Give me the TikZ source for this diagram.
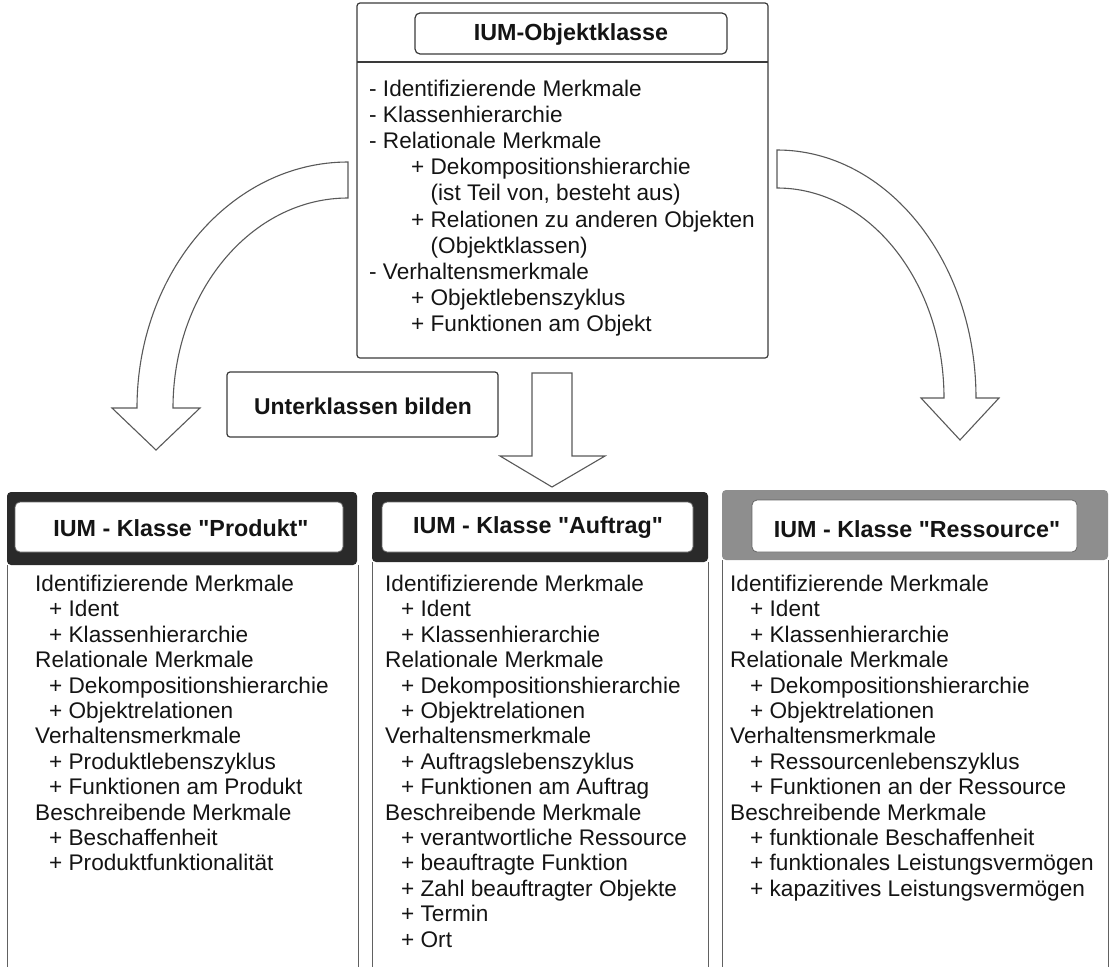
\documentclass[tikz,border=0pt]{standalone}
\usepackage{fontspec}
\setmainfont{Liberation Sans}[Ligatures=TeXOff]
\newcommand\bodyfont{\fontsize{22.6pt}{26pt}\selectfont}
\newcommand\headfont{\fontsize{23.3pt}{28pt}\selectfont\bfseries}
\newcommand\subfont{\fontsize{22.9pt}{28pt}\selectfont\bfseries}
\definecolor{ink}{HTML}{141414}
\definecolor{linec}{HTML}{3A3A3A}
\definecolor{darkband}{HTML}{2A2A2A}
\definecolor{grayband}{HTML}{8E8E8E}
\begin{document}
\begin{tikzpicture}[x=1pt,y=-1pt,
  frame/.style={draw=linec, line width=1.2pt},
  thinframe/.style={draw=linec!80, line width=1pt},
  hollow/.style={draw=black!65, line width=1.1pt, fill=white, line join=miter},
  txt/.style={anchor=base west, inner sep=0pt, font=\bodyfont, text=ink},
  head/.style={inner sep=0pt, font=\headfont, text=ink},
  innerhead/.style={fill=white, draw=black!60, line width=0.8pt, rounded corners=5pt}]

\useasboundingbox (0,0) rectangle (1112,967);

% ---------- curved and straight block arrows ----------
\draw[hollow] (348,162) .. controls (231.5,162) and (137,272.1) .. (137,408)
  -- (112,408) -- (156,450) -- (200,408) -- (173,408)
  .. controls (173,292) and (251.3,198) .. (348,198) -- cycle;
\draw[hollow] (777,150) .. controls (886.9,150) and (976,261) .. (976,398)
  -- (999,398) -- (960,440) -- (921,398) -- (944,398)
  .. controls (944,282) and (869.2,188) .. (777,188) -- cycle;
\draw[hollow] (532,373) -- (572,373) -- (572,456) -- (605,456) -- (552,487)
  -- (500,456) -- (532,456) -- cycle;

% ---------- top box ----------
\draw[frame, rounded corners=3pt] (357,3) rectangle (768,358);
\draw[frame] (357,62) -- (768,62);
\draw[frame, rounded corners=5pt] (415,13) rectangle (727,54);
\node[head] (topH) at (571,34) {IUM-Objektklasse};

\foreach \x/\t [count=\i from 0] in {
  369/{- Identifizierende Merkmale},
  369/{- Klassenhierarchie},
  369/{- Relationale Merkmale},
  411/{+ Dekompositionshierarchie},
  411/{\phantom{+} (ist Teil von, besteht aus)},
  411/{+ Relationen zu anderen Objekten},
  411/{\phantom{+} (Objektklassen)},
  369/{- Verhaltensmerkmale},
  411/{+ Objektlebenszyklus},
  411/{+ Funktionen am Objekt}}
  \node[txt] (top\i) at (\x, 96.5+26.1*\i) {\t};

% ---------- Unterklassen bilden ----------
\draw[frame, rounded corners=3pt] (227,372) rectangle (498,437);
\node[inner sep=0pt, font=\subfont, text=ink] (unter) at (363,406) {Unterklassen bilden};

% ---------- bottom left box: Produkt ----------
\fill[darkband, rounded corners=4pt] (7,492) rectangle (357,565);
\draw[innerhead] (15,502) rectangle (343,552);
\node[head] (prodH) at (181,528) {IUM - Klasse "Produkt"};
\draw[thinframe] (7,565) -- (7,967);
\draw[thinframe] (358,565) -- (358,967);
\foreach \x/\t [count=\i from 0] in {
  35/{Identifizierende Merkmale},
  49/{+ Ident},
  49/{+ Klassenhierarchie},
  35/{Relationale Merkmale},
  49/{+ Dekompositionshierarchie},
  49/{+ Objektrelationen},
  35/{Verhaltensmerkmale},
  49/{+ Produktlebenszyklus},
  49/{+ Funktionen am Produkt},
  35/{Beschreibende Merkmale},
  49/{+ Beschaffenheit},
  49/{+ Produktfunktionalität}}
  \node[txt] (prod\i) at (\x, 591.5+25.4*\i) {\t};

% ---------- bottom middle box: Auftrag ----------
\fill[darkband, rounded corners=4pt] (372,492) rectangle (708,562);
\draw[innerhead] (382,502) rectangle (693,552);
\node[head] (auftH) at (538,528) {IUM - Klasse "Auftrag"};
\draw[thinframe] (372,562) -- (372,967);
\draw[thinframe] (708,562) -- (708,967);
\foreach \x/\t [count=\i from 0] in {
  385/{Identifizierende Merkmale},
  401/{+ Ident},
  401/{+ Klassenhierarchie},
  385/{Relationale Merkmale},
  401/{+ Dekompositionshierarchie},
  401/{+ Objektrelationen},
  385/{Verhaltensmerkmale},
  401/{+ Auftragslebenszyklus},
  401/{+ Funktionen am Auftrag},
  385/{Beschreibende Merkmale},
  401/{+ verantwortliche Ressource},
  401/{+ beauftragte Funktion},
  401/{+ Zahl beauftragter Objekte},
  401/{+ Termin},
  401/{+ Ort}}
  \node[txt] (auft\i) at (\x, 591.5+25.4*\i) {\t};

% ---------- bottom right box: Ressource ----------
\fill[grayband, rounded corners=4pt] (722,490) rectangle (1108,560);
\draw[innerhead] (752,500) rectangle (1077,552);
\node[head] (ressH) at (917,529) {IUM - Klasse "Ressource"};
\draw[thinframe] (722,560) -- (722,967);
\draw[thinframe] (1108,560) -- (1108,967);
\foreach \x/\t [count=\i from 0] in {
  730/{Identifizierende Merkmale},
  750/{+ Ident},
  750/{+ Klassenhierarchie},
  730/{Relationale Merkmale},
  750/{+ Dekompositionshierarchie},
  750/{+ Objektrelationen},
  730/{Verhaltensmerkmale},
  750/{+ Ressourcenlebenszyklus},
  750/{+ Funktionen an der Ressource},
  730/{Beschreibende Merkmale},
  750/{+ funktionale Beschaffenheit},
  750/{+ funktionales Leistungsvermögen},
  750/{+ kapazitives Leistungsvermögen}}
  \node[txt] (ress\i) at (\x, 591.5+25.4*\i) {\t};
\end{tikzpicture}
\end{document}
